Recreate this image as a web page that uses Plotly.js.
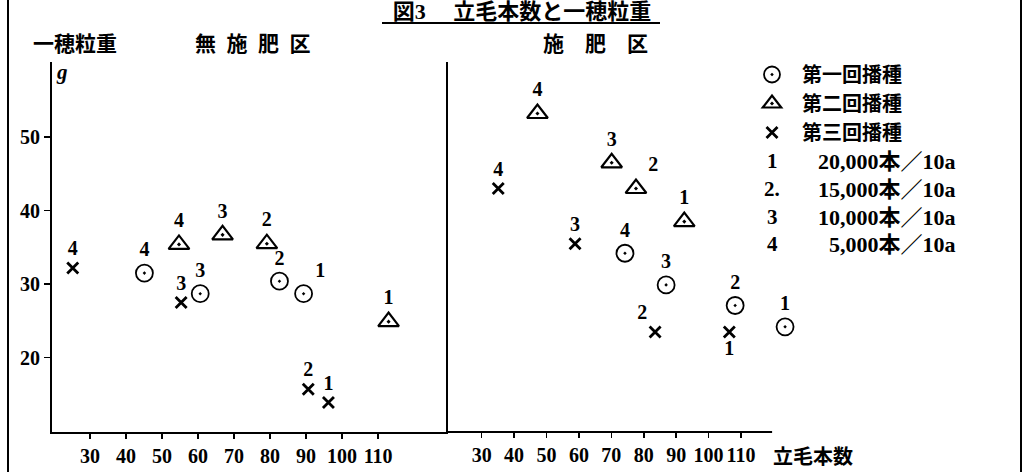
<!DOCTYPE html>
<html>
<head>
<meta charset="utf-8">
<script src="https://cdn.plot.ly/plotly-3.0.1.min.js"></script>
<style>html,body{margin:0;padding:0;background:#fff;}#chart{width:1024px;height:472px;}</style>
</head>
<body>
<div id="chart"></div>
<script>
// ---- data ----
const densityLabels = ['1', '2', '3', '4'];

// 無施肥区 (no fertilizer)
const noFertCircleX = [89.3, 82.6, 60.6, 45.1];
const noFertCircleY = [28.7, 30.4, 28.7, 31.5];
const noFertTriX = [112.9, 79.1, 66.8, 54.7];
const noFertTriY = [24.9, 35.5, 36.7, 35.4];
const noFertCrossX = [96.2, 90.6, 55.3, 25.2];
const noFertCrossY = [13.9, 15.7, 27.5, 32.2];

// 施肥区 (fertilized)
const fertCircleX = [123.6, 108.2, 86.9, 74.2];
const fertCircleY = [24.2, 27.1, 29.9, 34.2];
const fertTriX = [92.5, 77.6, 70.1, 47.2];
const fertTriY = [38.5, 43.0, 46.5, 53.2];
const fertCrossX = [106.4, 83.5, 58.8, 35.1];
const fertCrossY = [23.5, 23.5, 35.5, 43.0];

const seriesNames = ['第一回播種', '第二回播種', '第三回播種'];
const xTickVals = [30, 40, 50, 60, 70, 80, 90, 100, 110];
const yTickVals = [20, 30, 40, 50];
const legendNums = ['1', '2.', '3', '4'];
const legendDensity = ['20,000本／10a', '15,000本／10a', '10,000本／10a', '5,000本／10a'];

// label placement per point
const posNoFertCircle = ['top right', 'top center', 'top center', 'top center'];
const posNoFertTri = ['top center', 'top center', 'top center', 'top center'];
const posNoFertCross = ['top center', 'top center', 'top center', 'top center'];
const posFertCircle = ['top center', 'top center', 'top center', 'top center'];
const posFertTri = ['top center', 'top right', 'top center', 'top center'];
const posFertCross = ['bottom center', 'top left', 'top center', 'top center'];

// ---- styling ----
const FONT = 'Liberation Serif, "Noto Sans CJK JP", serif';
const CJK = '"Noto Sans CJK JP", sans-serif';
const textFont = {family: FONT, size: 20, color: '#000', weight: 'bold'};

const circleMarker = {symbol: 'circle-open-dot', size: 17, color: '#000', line: {color: '#000', width: 1.8}};
const triMarker = {symbol: 'triangle-up-open-dot', size: 18, color: '#000', line: {color: '#000', width: 2.2}};
const crossMarker = {symbol: 'x-thin-open', size: 11, color: '#000', line: {color: '#000', width: 2.8}};

function tr(x, y, pos, marker, name, group, showlegend, xa, ya) {
  return {
    type: 'scatter', mode: 'markers+text', x: x, y: y,
    text: densityLabels, textposition: pos, textfont: textFont,
    marker: marker, name: name, legendgroup: group, showlegend: showlegend,
    xaxis: xa, yaxis: ya, cliponaxis: false, hoverinfo: 'skip'
  };
}

const data = [
  tr(noFertCircleX, noFertCircleY, posNoFertCircle, circleMarker, '\u2002' + seriesNames[0], 'c', true, 'x', 'y'),
  tr(noFertTriX, noFertTriY, posNoFertTri, triMarker, '\u2002' + seriesNames[1], 't', true, 'x', 'y'),
  tr(noFertCrossX, noFertCrossY, posNoFertCross, crossMarker, '\u2002' + seriesNames[2], 'x', true, 'x', 'y'),
  tr(fertCircleX, fertCircleY, posFertCircle, circleMarker, seriesNames[0], 'c', false, 'x2', 'y2'),
  tr(fertTriX, fertTriY, posFertTri, triMarker, seriesNames[1], 't', false, 'x2', 'y2'),
  tr(fertCrossX, fertCrossY, posFertCross, crossMarker, seriesNames[2], 'x', false, 'x2', 'y2')
];

const W = 1024, H = 472, L = 52, R = 4, T = 62, B = 40;
const pw = W - L - R, ph = H - T - B;
const px = v => (v - L) / pw;          // pixel x -> paper x
const py = v => (H - B - v) / ph;      // pixel y -> paper y

const axisCommon = {
  showgrid: false, zeroline: false, showline: true, linecolor: '#000', linewidth: 2,
  ticks: 'outside', ticklen: 5, tickwidth: 1.5, tickcolor: '#000',
  tickfont: {family: FONT, size: 20, color: '#000', weight: 'bold'}
};

// right panel: x scale 3.241 px / unit, starting at 19.6 at the divider
const x2Start = 19.6, x2AxisEnd = 119.6, x2PxPerUnit = 3.241;
const x2DomainEndPx = 820;
const x2RangeEnd = x2Start + (x2DomainEndPx - 448) / x2PxPerUnit;

const annotations = [
  {text: '一穂粒重', x: px(75), y: py(42), font: {family: CJK, size: 21, color: '#000', weight: 'bold'}},
  {text: '無\u2002施\u2002肥\u2002区', x: px(253), y: py(42), font: {family: CJK, size: 21, color: '#000', weight: 'bold'}},
  {text: '施\u3000肥\u3000区', x: px(595), y: py(42), font: {family: CJK, size: 21, color: '#000', weight: 'bold'}},
  {text: '<i>g</i>', x: px(62), y: py(72), font: {family: 'Liberation Serif, serif', size: 21, color: '#000', weight: 'bold'}},
  {text: '立毛本数', x: px(813), y: py(455), font: {family: CJK, size: 20, color: '#000', weight: 'bold'}}
];
const rowY = [161, 189, 217, 244];
legendNums.forEach((n, i) => {
  annotations.push({text: n, x: px(772), y: py(rowY[i]), font: {family: FONT, size: 21, color: '#000', weight: 'bold'}});
  annotations.push({text: legendDensity[i], x: px(958), y: py(rowY[i]), xanchor: 'right', font: {family: FONT, size: 22, color: '#000', weight: 'bold'}});
});
annotations.forEach(a => { a.xref = 'paper'; a.yref = 'paper'; a.showarrow = false; if (!a.xanchor) a.xanchor = 'center'; a.yanchor = 'middle'; });

const layout = {
  width: W, height: H,
  margin: {l: L, r: R, t: T, b: B, pad: 0},
  paper_bgcolor: '#fff', plot_bgcolor: '#fff',
  title: {text: '図3\u3000 立毛本数と一穂粒重', xref: 'container', yref: 'container', x: 522 / W, xanchor: 'center', y: 1 - 11 / H, yanchor: 'middle',
    font: {family: FONT, size: 22, color: '#000', weight: 'bold'}},
  xaxis: Object.assign({}, axisCommon, {domain: [0, px(448)], range: [19.44, 129.4], tickvals: xTickVals, anchor: 'y'}),
  xaxis2: Object.assign({}, axisCommon, {domain: [px(448), px(x2DomainEndPx)], range: [x2Start, x2RangeEnd], tickvals: xTickVals, anchor: 'y2', showline: false}),
  yaxis: Object.assign({}, axisCommon, {domain: [0, 1], range: [9.9, 60.2], tickvals: yTickVals, ticklen: 6, anchor: 'x'}),
  yaxis2: Object.assign({}, axisCommon, {domain: [0, 1], range: [9.9, 60.2], ticks: '', showticklabels: false, anchor: 'x2'}),
  showlegend: true,
  legend: {x: px(752), y: py(55), xanchor: 'left', yanchor: 'top', bgcolor: 'rgba(0,0,0,0)', tracegroupgap: 0,
    font: {family: CJK, size: 20, color: '#000', weight: 'bold'}},
  annotations: annotations,
  shapes: [
    {type: 'line', xref: 'paper', yref: 'paper', x0: px(8), x1: px(8), y0: py(472), y1: py(0), line: {color: '#000', width: 2}},
    {type: 'line', xref: 'paper', yref: 'paper', x0: px(1021), x1: px(1021), y0: py(472), y1: py(0), line: {color: '#000', width: 2}},
    {type: 'line', xref: 'paper', yref: 'paper', x0: px(382), x1: px(660), y0: py(23), y1: py(23), line: {color: '#000', width: 2}},
    {type: 'line', xref: 'x2', yref: 'paper', x0: x2Start, x1: x2AxisEnd, y0: 0, y1: 0, line: {color: '#000', width: 2}}
  ]
};

Plotly.newPlot('chart', data, layout, {displayModeBar: false, staticPlot: true});
</script>
</body>
</html>
